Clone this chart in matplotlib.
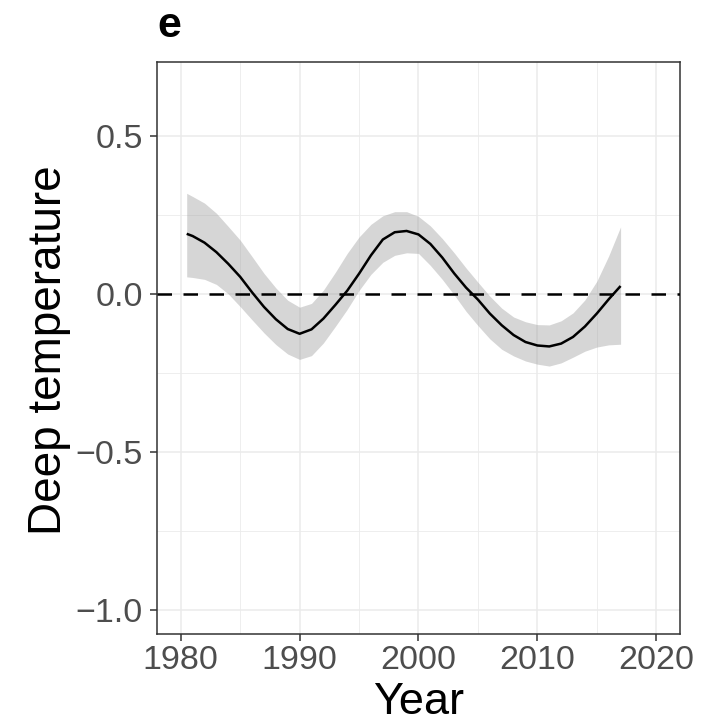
import matplotlib
matplotlib.use('Agg')
import matplotlib.pyplot as plt

plt.rcParams['font.family'] = ['Liberation Sans', 'DejaVu Sans']

# Smoothed deep temperature anomaly with its confidence band
years = [1980.5, 1981, 1982, 1983, 1984, 1985, 1986, 1987, 1988, 1989,
         1990, 1991, 1992, 1993, 1994, 1995, 1996, 1997, 1998, 1999,
         2000, 2001, 2002, 2003, 2004, 2005, 2006, 2007, 2008, 2009,
         2010, 2011, 2012, 2013, 2014, 2015, 2016, 2017]
fit = [0.190, 0.183, 0.162, 0.132, 0.095, 0.054, 0.005, -0.041, -0.080, -0.111,
       -0.126, -0.112, -0.078, -0.035, 0.010, 0.064, 0.122, 0.172, 0.195, 0.199,
       0.188, 0.158, 0.115, 0.065, 0.020, -0.018, -0.062, -0.099, -0.130, -0.152,
       -0.163, -0.166, -0.157, -0.136, -0.103, -0.062, -0.017, 0.025]
upper = [0.318, 0.308, 0.287, 0.255, 0.213, 0.170, 0.118, 0.065, 0.019, -0.020,
         -0.042, -0.030, 0.012, 0.068, 0.128, 0.180, 0.220, 0.247, 0.260, 0.260,
         0.245, 0.215, 0.175, 0.130, 0.082, 0.037, -0.007, -0.045, -0.073, -0.088,
         -0.097, -0.098, -0.085, -0.060, -0.019, 0.040, 0.120, 0.212]
lower = [0.054, 0.052, 0.046, 0.030, 0.000, -0.040, -0.082, -0.123, -0.160, -0.190,
         -0.207, -0.195, -0.155, -0.103, -0.049, 0.011, 0.062, 0.100, 0.122, 0.130,
         0.128, 0.090, 0.046, -0.003, -0.055, -0.100, -0.142, -0.175, -0.196, -0.212,
         -0.222, -0.228, -0.218, -0.200, -0.181, -0.168, -0.161, -0.159]

xticks = [1980, 1990, 2000, 2010, 2020]
xminor = [1985, 1995, 2005, 2015]
yticks = [-1.0, -0.5, 0.0, 0.5]
yminor = [-0.75, -0.25, 0.25]
ytick_labels = ['\u22121.0', '\u22120.5', '0.0', '0.5']

xlabel = 'Year'
ylabel = 'Deep temperature'
panel = 'e'


def main():
    fig = plt.figure(figsize=(7.03, 7.28), dpi=100)
    ax = fig.add_axes([0.2233, 0.1291, 0.744, 0.7857])

    # grid, drawn by hand so minor and major lines differ in weight
    for x in xminor:
        ax.axvline(x, color='#EBEBEB', lw=0.6, zorder=0)
    for y in yminor:
        ax.axhline(y, color='#EBEBEB', lw=0.6, zorder=0)
    for x in xticks:
        ax.axvline(x, color='#EBEBEB', lw=1.1, zorder=0)
    for y in yticks:
        ax.axhline(y, color='#EBEBEB', lw=1.1, zorder=0)

    ax.fill_between(years, lower, upper, color='#999999', alpha=0.4,
                    lw=0, zorder=1)
    ax.plot(years, fit, color='black', lw=1.8, zorder=3,
            solid_capstyle='butt', solid_joinstyle='round')
    ax.axhline(0, color='black', lw=1.8, linestyle=(0, (5.8, 4.6)),
               zorder=4)

    ax.set_xlim(1978, 2022)
    ax.set_ylim(-1.075, 0.733)
    ax.set_xticks(xticks)
    ax.set_xticklabels([str(x) for x in xticks])
    ax.set_yticks(yticks)
    ax.set_yticklabels(ytick_labels)

    ax.tick_params(axis='both', which='major', labelsize=24.5,
                   labelcolor='#4D4D4D', color='#333333', length=5,
                   width=1.1, pad=3)
    ax.tick_params(axis='y', pad=5)
    for s in ax.spines.values():
        s.set_color('#333333')
        s.set_linewidth(1.1)

    ax.set_xlabel(xlabel, fontsize=32.5, color='black')
    ax.set_ylabel(ylabel, fontsize=33, color='black')
    ax.xaxis.set_label_coords(0.5, -0.084)
    ax.yaxis.set_label_coords(-0.164, 0.497)

    fig.text(0.2233, 1 - 37 / 728, panel, fontsize=31, fontweight='bold',
             ha='left', va='baseline')

    fig.savefig('out.png', dpi=100, facecolor='white')
    return 1


if __name__ == '__main__':
    main()
